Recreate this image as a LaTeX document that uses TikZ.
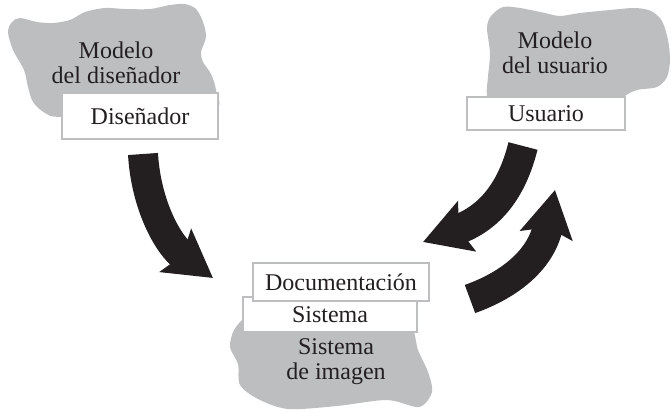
\documentclass[tikz,border=0pt]{standalone}
\usepackage{fontspec}
\setmainfont{Liberation Serif}
\usepackage{tikz}
\usetikzlibrary{arrows.meta}
\definecolor{cloudgray}{HTML}{BCBEC0}
\definecolor{inkgray}{HTML}{231F20}

\begin{document}
\begin{tikzpicture}[x=0.5pt, y=-0.5pt,
  txt/.style={text=inkgray, font=\fontsize{12}{12.5}\selectfont, align=center, inner sep=0pt},
  labelbox/.style={txt, draw=cloudgray, line width=1pt, fill=white},
  bigarrow/.style={draw=inkgray, line width=15pt, -{Stealth[length=23pt, width=26pt, inset=4pt]}}]

\useasboundingbox (0,0) rectangle (671,412);

% clouds
\fill[cloudgray] plot[smooth cycle] coordinates {(20,18) (37,22) (53,23) (70,20) (85,12) (105,8) (125,9) (150,9) (170,5) (185,4) (196,9) (203,22) (206,37) (201,52) (203,62) (211,74) (216,90) (215,110) (150,115) (62,117) (45,113) (33,102) (28,87) (24,70) (13,50) (8,32) (12,22)};
\fill[cloudgray] plot[smooth cycle] coordinates {(487,28) (491,16) (503,7) (520,8) (545,13) (560,16) (580,13) (610,10) (635,8) (651,11) (662,21) (668,40) (670,60) (667,77) (657,87) (637,90) (625,96) (615,108) (495,108) (487,95) (488,77) (490,53)};
\fill[cloudgray] plot[smooth cycle] coordinates {(245,318) (234,330) (230,347) (238,364) (240,385) (258,399) (288,409) (337,406) (387,400) (419,407) (432,392) (428,372) (418,350) (413,330) (400,322) (255,322)};

% boxes
\node[labelbox, minimum width=78pt, minimum height=23pt] (dis) at (140,116) {Diseñador};
\node[labelbox, minimum width=79pt, minimum height=16.5pt] (usu) at (546,113.5) {Usuario};
\node[labelbox, minimum width=87pt, minimum height=17.5pt] (sis) at (330,314.5) {Sistema};
\node[labelbox, minimum width=88pt, minimum height=19pt] (doc) at (341,282) {Documentación};

% cloud labels
\node[txt] (mdis) at (116,63) {Modelo\\del diseñador};
\node[txt] (musu) at (555,53) {Modelo\\del usuario};
\node[txt] (msis) at (336,362) {Sistema\\de imagen};

% arrows
\coordinate (distail) at (143,154);
\coordinate (distip) at (213,278);
\coordinate (usutail) at (523,146);
\coordinate (usutip) at (423,242);
\coordinate (sistail) at (470,299);
\coordinate (sistip) at (555,190);

\draw[bigarrow] (distail) .. controls (146,205) and (168,245) .. (distip);
\draw[bigarrow] (usutail) .. controls (512,190) and (490,218) .. (usutip);
\draw[bigarrow] (sistail) .. controls (512,284) and (542,258) .. (sistip);

\end{tikzpicture}
\end{document}
